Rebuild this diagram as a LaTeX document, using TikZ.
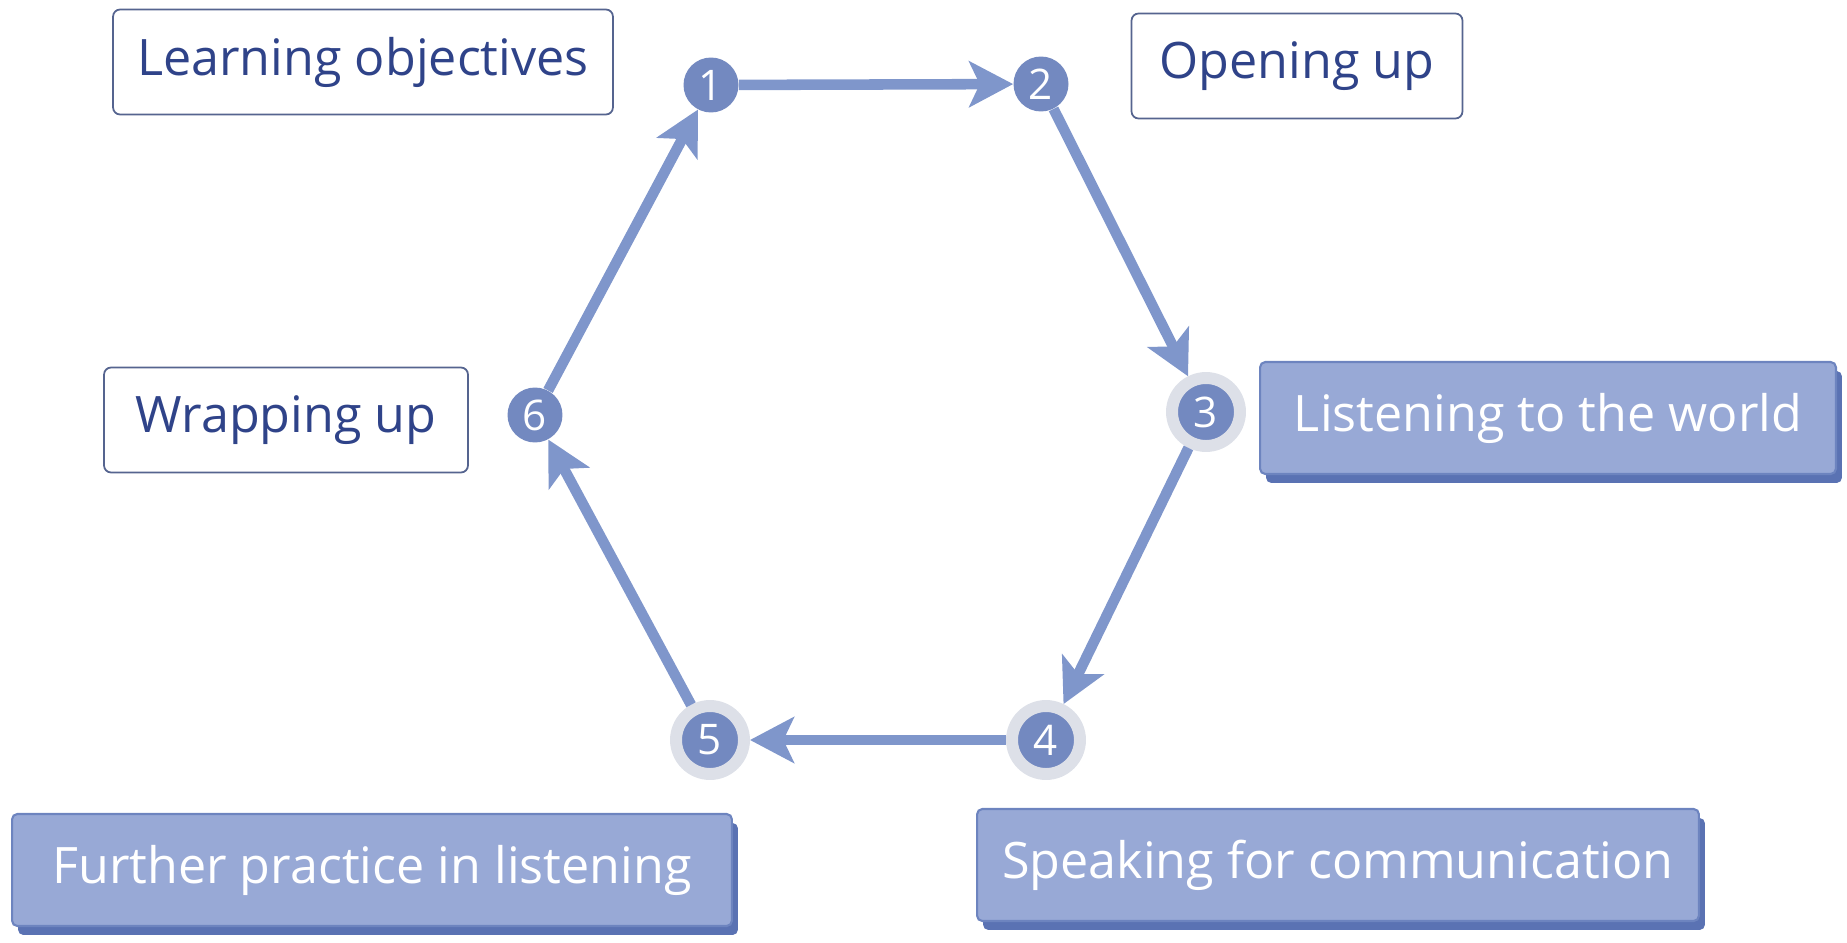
\documentclass[tikz,border=0pt]{standalone}
\usepackage{fontspec}
\setmainfont{Open Sans}
\usetikzlibrary{arrows.meta,shadows}
\definecolor{stepblue}{HTML}{7389C0}
\definecolor{flowblue}{HTML}{7F96CB}
\definecolor{boxblue}{HTML}{98A9D6}
\definecolor{boxedge}{HTML}{6D84BF}
\definecolor{boxshade}{HTML}{5A72B3}
\definecolor{halo}{HTML}{DDE0E8}
\definecolor{inkblue}{HTML}{2F4389}
\definecolor{frame}{HTML}{55648F}

\begin{document}
\begin{tikzpicture}[x=0.02cm,y=-0.02cm,
  stepdot/.style={circle,fill=stepblue,text=white,inner sep=0pt,minimum size=1.1cm,
    font=\fontsize{24}{24}\selectfont},
  halodot/.style={stepdot,draw=halo,line width=6.8pt,minimum size=1.36cm},
  labelbox/.style={draw=frame,line width=1pt,fill=white,rounded corners=4pt,text=inkblue,
    minimum height=2.1cm,font=\fontsize{28.6}{34}\selectfont},
  stagebox/.style={draw=boxedge,line width=1.2pt,fill=boxblue,rounded corners=3pt,text=white,
    minimum height=2.24cm,font=\fontsize{28.6}{34}\selectfont,
    drop shadow={shadow xshift=0.12cm,shadow yshift=-0.18cm,fill=boxshade,opacity=1}},
  flow/.style={flowblue,line width=6pt,-{Stealth[length=25pt,width=26pt,inset=6pt]}}]
  \useasboundingbox (0,0) rectangle (1847,943);

  % Steps of the cycle
  \node[stepdot] (c1) at (711,85) {1};
  \node[stepdot] (c2) at (1041,84) {2};
  \node[halodot] (c3) at (1206,412) {3};
  \node[halodot] (c4) at (1046,740) {4};
  \node[halodot] (c5) at (710,740) {5};
  \node[stepdot] (c6) at (535,415) {6};

  % Labels
  \node[labelbox,minimum width=10cm] (objectives) at (363,62) {Learning objectives};
  \node[labelbox,minimum width=6.62cm] (opening) at (1297,66) {Opening up};
  \node[labelbox,minimum width=7.28cm] (wrapping) at (286,420) {Wrapping up};
  \node[stagebox,minimum width=11.52cm] (listening) at (1548,418) {Listening to the world};
  \node[stagebox,minimum width=14.44cm] (speaking) at (1338,865) {Speaking for communication};
  \node[stagebox,minimum width=14.4cm] (further) at (372,870) {Further practice in listening};

  % Arrows
  \draw[flow] (c1) -- (c2);
  \draw[flow] (c2) -- (c3);
  \draw[flow] (c3) -- (c4);
  \draw[flow] (c4) -- (c5);
  \draw[flow] (c5) -- (c6);
  \draw[flow] (c6) -- (c1);
\end{tikzpicture}
\end{document}
